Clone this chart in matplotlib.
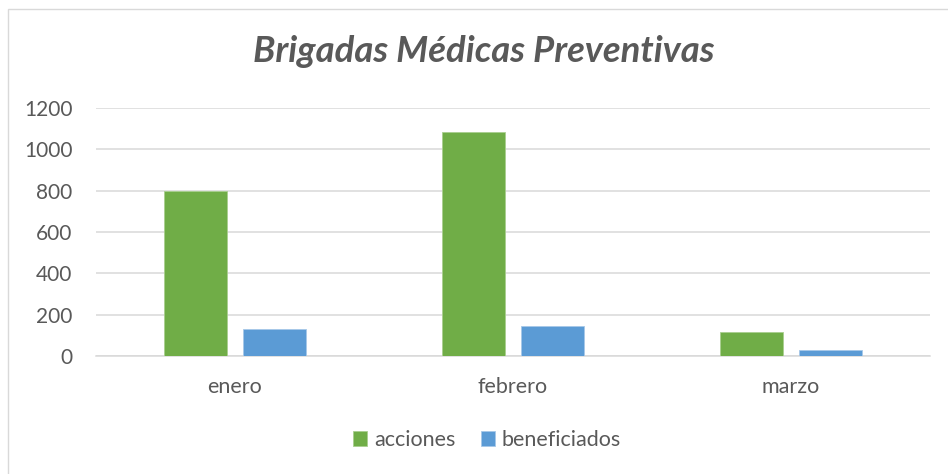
import matplotlib.pyplot as plt
import matplotlib.patches as patches
import numpy as np

# chart data
meses = ['enero', 'febrero', 'marzo']
acciones = [800, 1084, 118]
beneficiados = [132, 143, 29]
y_ticks = [0, 200, 400, 600, 800, 1000, 1200]

TEXT = '#595959'
GRID = '#D9D9D9'
VERDE = '#70AD47'
AZUL = '#5B9BD5'

plt.rcParams['font.family'] = ['Lato', 'DejaVu Sans']


def plot_chart(output_filename):
    fig = plt.figure(figsize=(9.48, 4.74), dpi=100)
    W, H = 948, 474

    # thin outer frame of the chart area (cut off on the right/bottom)
    fig.patches.append(patches.Rectangle((8 / W, -0.05), 1.1, 1 - 9 / H + 0.05,
                                         transform=fig.transFigure, fill=False,
                                         edgecolor=GRID, linewidth=1.0))

    ax = fig.add_axes([96 / W, 1 - 356 / H, 834 / W, 248 / H])

    x = np.arange(len(meses))
    width = 0.227
    off = 0.142
    ax.bar(x - off, acciones, width, color=VERDE, edgecolor='#A9CF8F',
           linewidth=0.6, label='acciones', zorder=3)
    ax.bar(x + off, beneficiados, width, color=AZUL, edgecolor='#A7C8E8',
           linewidth=0.6, label='beneficiados', zorder=3)

    ax.set_xlim(-0.5, len(meses) - 0.5)
    ax.set_ylim(0, 1200)
    ax.set_yticks(y_ticks)
    ax.set_xticks(x)
    ax.set_xticklabels(meses)
    ax.yaxis.grid(True, color=GRID, linewidth=1.1, zorder=0)
    ax.set_axisbelow(True)
    for s in ['top', 'right', 'left']:
        ax.spines[s].set_visible(False)
    ax.spines['bottom'].set_color(GRID)
    ax.spines['bottom'].set_linewidth(1.1)
    ax.tick_params(axis='y', length=0, pad=17, labelsize=15, labelcolor=TEXT)
    ax.tick_params(axis='x', length=0, pad=15, labelsize=15.5, labelcolor=TEXT)

    fig.text(484 / W, 1 - 52 / H, 'Brigadas Médicas Preventivas', ha='center',
             va='center', fontsize=26.3, fontweight='bold', fontstyle='italic',
             color=TEXT)

    fig.legend(loc='center', bbox_to_anchor=(487 / W, 1 - 440 / H), ncol=2,
               frameon=False, fontsize=15.5, labelcolor=TEXT,
               handlelength=0.67, handleheight=0.67, handletextpad=0.3,
               columnspacing=1.2)

    plt.savefig(output_filename, dpi=100)
    plt.close()


if __name__ == '__main__':
    plot_chart('out.png')
